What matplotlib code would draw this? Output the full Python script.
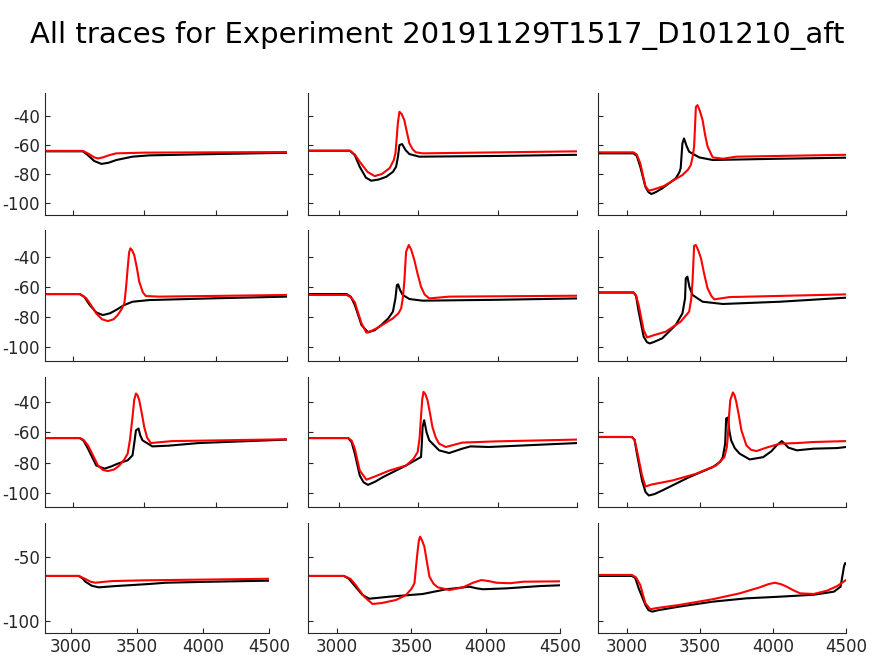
import matplotlib
matplotlib.use('Agg')
import matplotlib.pyplot as plt

# траектории: время (мс) и потенциал (мВ)
# строка 1
p11_bt = [2800, 3070, 3100, 3150, 3200, 3250, 3305, 3417, 3535, 3880, 4500]
p11_bv = [-64.3, -64.3, -66.5, -71.0, -73.0, -72.2, -70.3, -68.0, -67.1, -66.4, -65.3]
p11_rt = [2800, 3070, 3110, 3150, 3176, 3210, 3260, 3305, 3500, 4500]
p11_rv = [-64.0, -64.0, -66.0, -68.5, -69.2, -68.5, -66.8, -65.7, -65.2, -64.8]

p12_bt = [2800, 3069, 3100, 3131, 3170, 3204, 3250, 3298, 3340, 3360, 3372, 3381, 3398, 3420, 3444, 3506, 4000, 4500]
p12_bv = [-63.9, -63.9, -67.0, -75.0, -82.5, -84.6, -83.8, -81.9, -78.5, -75.0, -68.0, -60.0, -59.3, -63.5, -66.2, -68.0, -67.5, -66.7]
p12_rt = [2800, 3069, 3100, 3131, 3180, 3225, 3270, 3319, 3345, 3356, 3364, 3371, 3381, 3395, 3412, 3428, 3444, 3465, 3485, 3527, 4500]
p12_rv = [-63.9, -63.9, -66.5, -71.5, -78.5, -81.4, -80.0, -76.0, -70.5, -65.7, -55.0, -45.0, -37.0, -38.5, -42.8, -51.0, -58.8, -63.0, -65.0, -65.7, -64.3]

p13_bt = [2800, 3048, 3070, 3094, 3129, 3150, 3170, 3200, 3244, 3336, 3360, 3370, 3382, 3393, 3410, 3428, 3497, 3589, 4000, 4500]
p13_bv = [-65.7, -65.7, -67.5, -75.0, -88.8, -92.5, -93.8, -92.5, -89.9, -83.0, -79.0, -76.0, -58.8, -55.4, -60.5, -64.6, -68.5, -70.3, -69.5, -68.7]
p13_rt = [2800, 3048, 3070, 3094, 3129, 3152, 3190, 3255, 3382, 3420, 3439, 3452, 3462, 3474, 3485, 3500, 3520, 3537, 3554, 3589, 3658, 3750, 4500]
p13_rv = [-65.0, -65.0, -66.5, -72.6, -88.3, -91.5, -90.5, -88.3, -80.7, -77.0, -73.8, -68.0, -61.0, -33.6, -32.4, -36.0, -42.8, -53.0, -61.0, -68.5, -69.4, -68.0, -66.7]

# строка 2
p21_bt = [2800, 3049, 3080, 3118, 3165, 3210, 3260, 3303, 3360, 3418, 3534, 4000, 4500]
p21_bv = [-64.7, -64.7, -66.5, -72.0, -77.0, -78.7, -77.5, -75.3, -72.0, -69.8, -68.7, -67.5, -66.4]
p21_rt = [2800, 3049, 3095, 3130, 3164, 3205, 3245, 3285, 3314, 3340, 3361, 3373, 3384, 3394, 3403, 3415, 3430, 3448, 3465, 3490, 3511, 3604, 4500]
p21_rv = [-64.7, -64.7, -67.6, -72.5, -77.6, -81.5, -82.7, -81.5, -78.7, -75.0, -70.9, -60.0, -47.5, -37.0, -34.2, -35.5, -38.7, -47.0, -56.4, -63.5, -66.0, -66.4, -65.3]

p22_bt = [2800, 3048, 3075, 3100, 3142, 3183, 3225, 3267, 3310, 3340, 3356, 3365, 3373, 3385, 3402, 3444, 3527, 4000, 4500]
p22_bv = [-64.7, -64.7, -66.5, -72.0, -85.3, -90.2, -88.8, -85.3, -81.0, -76.4, -67.6, -58.7, -58.2, -62.0, -65.3, -68.0, -69.1, -68.5, -67.6]
p22_rt = [2800, 3048, 3075, 3100, 3142, 3173, 3210, 3256, 3340, 3375, 3392, 3403, 3412, 3423, 3440, 3455, 3475, 3495, 3517, 3540, 3569, 3694, 4500]
p22_rv = [-65.3, -65.3, -66.8, -70.2, -84.2, -90.4, -89.0, -86.4, -80.9, -77.5, -74.2, -67.0, -56.4, -36.5, -32.0, -35.0, -42.0, -51.0, -59.8, -65.0, -67.6, -66.4, -65.8]

p23_bt = [2800, 3048, 3065, 3083, 3117, 3140, 3159, 3190, 3244, 3336, 3382, 3400, 3405, 3416, 3430, 3451, 3520, 3658, 4049, 4500]
p23_bv = [-63.6, -63.6, -66.0, -76.4, -93.1, -96.8, -97.6, -96.5, -94.2, -85.3, -77.6, -67.6, -54.2, -53.1, -60.0, -65.3, -69.8, -71.3, -69.8, -67.1]
p23_rt = [2800, 3048, 3065, 3083, 3117, 3140, 3190, 3267, 3370, 3428, 3442, 3451, 3462, 3474, 3490, 3509, 3530, 3554, 3580, 3600, 3704, 4500]
p23_rv = [-63.8, -63.8, -65.5, -72.0, -88.7, -93.6, -92.0, -89.8, -83.1, -76.4, -68.0, -56.4, -32.5, -32.0, -35.5, -40.9, -51.0, -60.9, -66.0, -68.2, -66.7, -64.9]

# строка 3
p31_bt = [2800, 3049, 3075, 3106, 3164, 3222, 3270, 3314, 3384, 3418, 3432, 3442, 3460, 3472, 3488, 3557, 3673, 3881, 4500]
p31_bv = [-63.8, -63.8, -65.5, -70.8, -81.9, -84.0, -82.5, -80.7, -78.5, -75.2, -66.0, -58.7, -57.5, -62.0, -65.3, -69.3, -68.8, -67.1, -64.8]
p31_rt = [2800, 3049, 3075, 3106, 3140, 3176, 3210, 3245, 3290, 3326, 3360, 3384, 3400, 3418, 3430, 3442, 3453, 3465, 3482, 3500, 3520, 3546, 3696, 4500]
p31_rv = [-63.8, -63.8, -65.0, -68.6, -75.0, -81.9, -84.8, -85.6, -84.5, -81.9, -78.0, -74.1, -65.0, -49.9, -38.5, -34.4, -35.5, -38.8, -47.0, -56.5, -63.5, -67.1, -65.8, -64.6]

p32_bt = [2800, 3058, 3080, 3100, 3131, 3155, 3183, 3230, 3277, 3423, 3517, 3522, 3527, 3537, 3552, 3569, 3631, 3694, 3777, 3829, 3944, 4500]
p32_bv = [-63.8, -63.8, -66.5, -74.1, -88.5, -93.0, -94.7, -92.5, -89.6, -81.9, -76.3, -68.0, -56.5, -52.0, -60.0, -65.3, -71.9, -73.7, -70.8, -69.3, -69.7, -67.1]
p32_rt = [2800, 3058, 3080, 3100, 3131, 3173, 3230, 3319, 3423, 3470, 3496, 3508, 3517, 3525, 3533, 3545, 3558, 3573, 3589, 3610, 3631, 3673, 3777, 3985, 4500]
p32_rv = [-63.8, -63.8, -65.5, -70.8, -85.2, -91.3, -89.0, -85.2, -81.9, -77.5, -73.0, -64.0, -49.9, -38.0, -33.3, -35.0, -38.8, -47.0, -56.5, -63.5, -67.5, -69.7, -66.8, -66.0, -64.8]

p33_bt = [2800, 3037, 3055, 3071, 3106, 3130, 3152, 3190, 3244, 3428, 3589, 3640, 3658, 3674, 3681, 3692, 3703, 3715, 3740, 3773, 3842, 3934,
          3990, 4026, 4061, 4085, 4106, 4164, 4279, 4440, 4500]
p33_bv = [-63.1, -63.1, -65.0, -74.1, -91.8, -99.5, -101.7, -100.8, -98.4, -89.6, -83.0, -79.5, -76.4, -67.5, -50.9, -50.3, -59.0, -65.3, -70.5, -74.1, -77.9, -76.4,
          -72.5, -68.6, -65.8, -68.0, -70.1, -71.9, -70.8, -70.4, -69.7]
p33_rt = [2800, 3037, 3055, 3071, 3106, 3129, 3170, 3313, 3474, 3612, 3669, 3685, 3692, 3700, 3709, 3727, 3738, 3750, 3768, 3785, 3819, 3850, 3888, 3957,
          4049, 4164, 4279, 4500]
p33_rv = [-63.1, -63.1, -65.0, -71.9, -88.5, -95.8, -94.5, -91.8, -87.4, -81.9, -76.4, -70.0, -63.1, -50.0, -38.8, -33.7, -35.5, -39.9, -49.0, -58.7, -68.6, -71.5, -72.4, -70.1,
          -67.5, -67.1, -66.4, -65.8]

# строка 4
p41_bt = [2800, 3061, 3090, 3111, 3160, 3212, 3339, 3465, 3591, 3718, 3970, 4223, 4500]
p41_bv = [-64.8, -64.8, -66.8, -69.3, -72.5, -73.7, -72.7, -71.9, -71.1, -70.1, -69.5, -69.0, -68.5]
p41_rt = [2800, 3061, 3111, 3150, 3187, 3240, 3313, 3566, 3970, 4500]
p41_rv = [-64.8, -64.8, -67.2, -69.3, -70.1, -69.5, -68.8, -68.2, -67.7, -67.0]

p42_bt = [2800, 3047, 3080, 3115, 3170, 3216, 3270, 3352, 3577, 3735, 3892, 3940, 3982, 4140, 4366, 4500]
p42_bv = [-64.8, -64.8, -67.0, -71.9, -79.5, -82.6, -82.0, -81.0, -78.9, -75.2, -73.2, -74.5, -75.2, -74.5, -72.7, -72.1]
p42_rt = [2800, 3047, 3090, 3126, 3183, 3239, 3300, 3397, 3464, 3500, 3521, 3532, 3543, 3551, 3559, 3572, 3588, 3605, 3622, 3650, 3678, 3757, 3847, 3915,
          3971, 4020, 4073, 4163, 4253, 4500]
p42_rv = [-64.8, -64.8, -67.0, -71.9, -81.0, -86.7, -86.0, -83.6, -79.7, -75.0, -70.5, -57.0, -44.5, -37.0, -34.1, -37.0, -42.0, -54.0, -65.4, -71.0, -73.7, -75.8, -73.7, -70.1,
          -68.0, -68.8, -70.1, -70.5, -69.3, -69.0]

p43_bt = [2800, 3037, 3060, 3083, 3129, 3150, 3175, 3220, 3359, 3589, 3819, 4049, 4279, 4417, 4463, 4486, 4493, 4500]
p43_bv = [-64.8, -64.8, -66.5, -74.5, -87.5, -91.5, -92.7, -91.5, -88.8, -84.9, -82.3, -81.0, -79.5, -77.1, -73.2, -57.6, -54.9, -54.9]
p43_rt = [2800, 3037, 3065, 3094, 3129, 3163, 3200, 3359, 3589, 3773, 3911, 3970, 4014, 4055, 4095, 4140, 4187, 4279, 4371, 4440, 4500]
p43_rv = [-64.0, -64.0, -66.0, -71.9, -86.2, -90.9, -90.0, -87.5, -83.0, -78.4, -73.7, -71.2, -70.1, -71.2, -73.2, -76.0, -78.4, -78.9, -76.3, -72.7, -68.0]

panels = [
    [(p11_bt, p11_bv, p11_rt, p11_rv), (p12_bt, p12_bv, p12_rt, p12_rv), (p13_bt, p13_bv, p13_rt, p13_rv)],
    [(p21_bt, p21_bv, p21_rt, p21_rv), (p22_bt, p22_bv, p22_rt, p22_rv), (p23_bt, p23_bv, p23_rt, p23_rv)],
    [(p31_bt, p31_bv, p31_rt, p31_rv), (p32_bt, p32_bv, p32_rt, p32_rv), (p33_bt, p33_bv, p33_rt, p33_rv)],
    [(p41_bt, p41_bv, p41_rt, p41_rv), (p42_bt, p42_bv, p42_rt, p42_rv), (p43_bt, p43_bv, p43_rt, p43_rv)],
]

xticks = [3000, 3500, 4000, 4500]
yticks_top = [-100, -80, -60, -40]
yticks_bottom = [-100, -50]

# расположение осей в пикселях (как в исходной картинке)
W, H = 874, 656
row_px = [(93, 215), (230, 361), (377, 507), (523, 633)]
col_px = [[(45, 287), (308, 577), (598, 846)]] * 3 + [[(45, 269), (308, 560), (598, 846)]]
row_ylim = [(-108.3, -24), (-109.3, -22), (-109.3, -23.5), (-109.4, -23.4)]

plt.rcParams['font.family'] = 'DejaVu Sans'
plt.rcParams['axes.unicode_minus'] = False

fig = plt.figure(figsize=(W / 100, H / 100), dpi=100)
fig.text(0.5, 1 - 35 / H, 'All traces for Experiment 20191129T1517_D101210_aft',
         ha='center', va='center', fontsize=21)

dark = '#262626'
for i in range(4):
    top, bottom = row_px[i]
    for j in range(3):
        left, right = col_px[i][j]
        ax = fig.add_axes([left / W, 1 - bottom / H, (right - left) / W, (bottom - top) / H])
        bt, bv, rt, rv = panels[i][j]
        ax.plot(bt, bv, color='black', linewidth=1.5)
        ax.plot(rt, rv, color='red', linewidth=1.5)
        ax.set_xlim(2805, 4500)
        ax.set_ylim(*row_ylim[i])
        ax.set_xticks(xticks)
        ax.set_yticks(yticks_bottom if i == 3 else yticks_top)
        for s in ['top', 'right']:
            ax.spines[s].set_visible(False)
        for s in ['left', 'bottom']:
            ax.spines[s].set_color(dark)
            ax.spines[s].set_linewidth(0.8)
        ax.tick_params(direction='in', length=3.5, width=0.8, color=dark,
                       labelcolor=dark, labelsize=12)
        ax.tick_params(axis='y', pad=3.5)
        if i < 3:
            ax.set_xticklabels([])
        if j > 0:
            ax.set_yticklabels([])

plt.savefig('out.png', dpi=100)
